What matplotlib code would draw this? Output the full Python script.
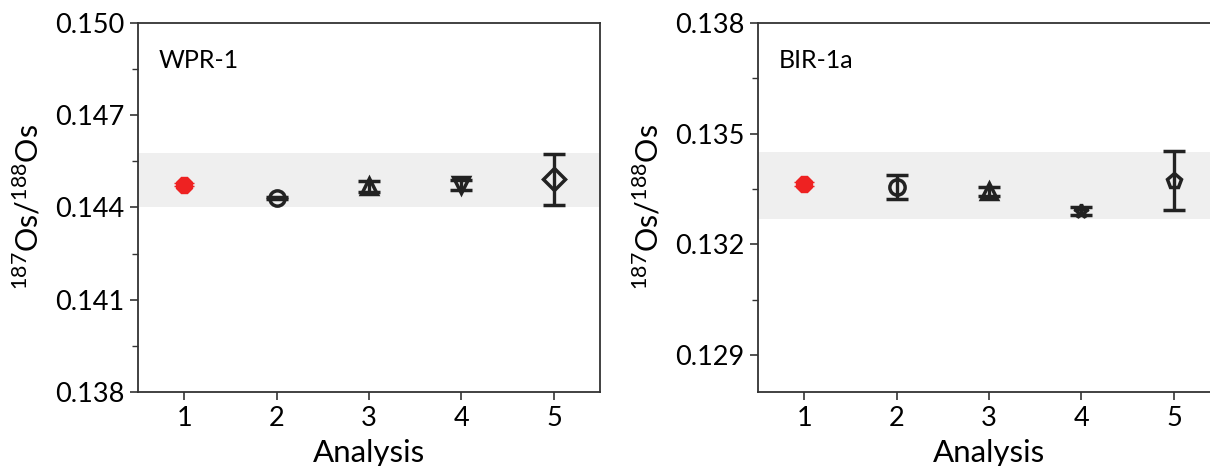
import numpy as np
import matplotlib
matplotlib.use('Agg')
import matplotlib.pyplot as plt
from matplotlib.ticker import MultipleLocator, FormatStrFormatter

plt.rcParams['font.family'] = ['Lato', 'DejaVu Sans']
plt.rcParams['mathtext.fontset'] = 'custom'
plt.rcParams['mathtext.rm'] = 'Lato'
plt.rcParams['mathtext.it'] = 'Lato:italic'
plt.rcParams['mathtext.bf'] = 'Lato:bold'

analysis = [1, 2, 3, 4, 5]

wpr_y = [0.14473, 0.14430, 0.14468, 0.14473, 0.14492]
wpr_err = [0.00005, 0.00004, 0.00018, 0.00016, 0.00083]
wpr_band = (0.14401, 0.14576)
wpr_markers = ['8', 'o', '^', 'v', 'D']

bir_y = [0.13363, 0.13355, 0.13344, 0.13290, 0.13372]
bir_err = [0.00005, 0.00033, 0.00012, 0.00010, 0.00080]
bir_band = (0.13268, 0.13451)
bir_markers = ['8', 'o', '^', '*', 'p']

panels = [
  ('WPR-1', wpr_y, wpr_err, wpr_band, wpr_markers, (0.138, 0.150), [0.138, 0.141, 0.144, 0.147, 0.150]),
  ('BIR-1a', bir_y, bir_err, bir_band, bir_markers, (0.128, 0.138), [0.129, 0.132, 0.135, 0.138]),
]

fig = plt.figure(figsize=(12.10, 4.66), dpi=100)
axes = [fig.add_axes([0.114, 0.159, 0.382, 0.792]),
        fig.add_axes([0.6264, 0.159, 0.382, 0.792])]

for ax, (name, ys, errs, band, markers, ylim, yticks) in zip(axes, panels):
  ax.axhspan(band[0], band[1], color='#efefef', zorder=0, lw=0)
  for i, (x, y, e, m) in enumerate(zip(analysis, ys, errs, markers)):
    if i == 0:
      ax.errorbar(x, y, yerr=e, fmt=m, color='#ee2222', ms=12,
                  mec='#ee2222', elinewidth=2, capsize=7, zorder=3)
    else:
      ms = 10 if m == '*' else 11
      ax.errorbar(x, y, yerr=e, fmt=m, color='#222222', ms=ms, mfc='none',
                  mec='#222222', mew=2.5, elinewidth=2.4, capsize=8,
                  capthick=2.4, zorder=3)
  ax.set_xlim(0.5, 5.5)
  ax.set_ylim(*ylim)
  ax.set_xticks(analysis)
  ax.set_yticks(yticks)
  ax.yaxis.set_minor_locator(MultipleLocator(0.0015))
  ax.yaxis.set_major_formatter(FormatStrFormatter('%.3f'))
  ax.tick_params(axis='both', which='major', direction='out', length=6,
                 width=1.2, labelsize=19.5, color='#333333', pad=4)
  ax.tick_params(axis='y', which='minor', direction='out', length=4,
                 width=1.0, color='#333333')
  for s in ax.spines.values():
    s.set_linewidth(1.3)
    s.set_color('#333333')
  ax.set_xlabel('Analysis', fontsize=22.5, labelpad=6)
  ax.set_ylabel(r'$\mathregular{^{187}Os/^{188}Os}$', fontsize=22, labelpad=8)
  ax.text(0.045, 0.93, name, transform=ax.transAxes, fontsize=18,
          va='top', ha='left')

fig.savefig('out.png', dpi=100)
